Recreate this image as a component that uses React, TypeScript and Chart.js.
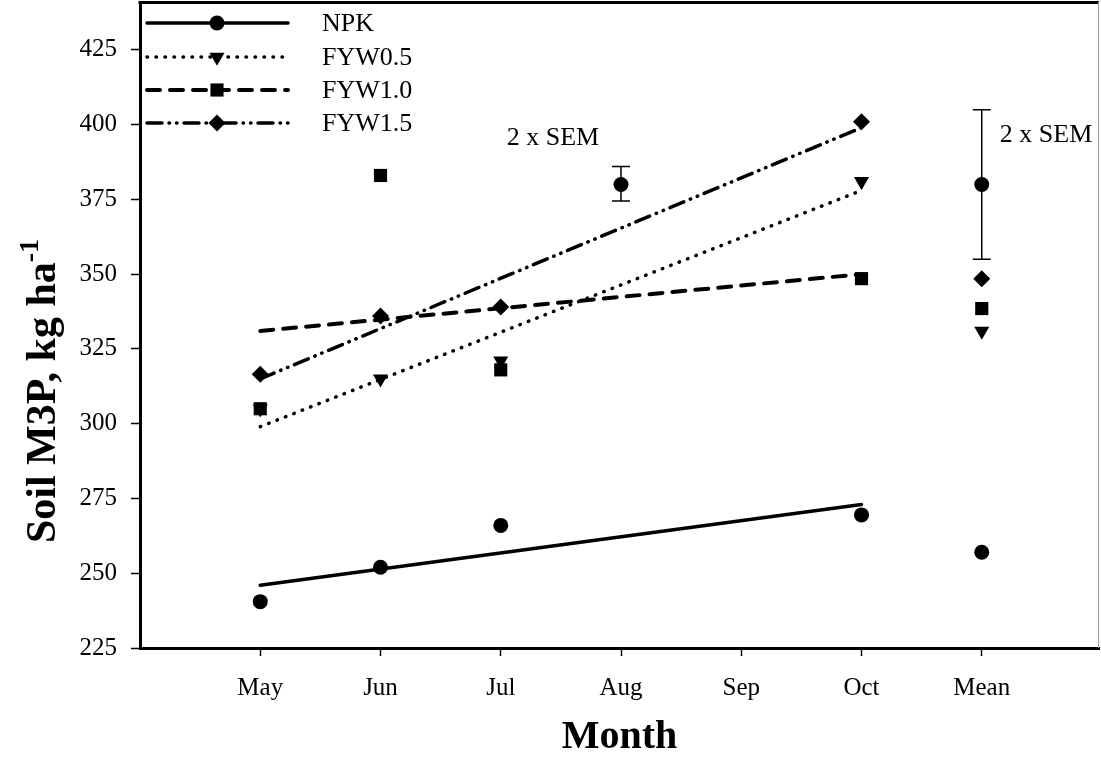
import React, { useEffect, useRef } from "react";
import { Chart, registerables } from "chart.js";
import { drawPoint } from "chart.js/helpers";

Chart.register(...registerables);

// ---- data ----
const monthLabels = ["", "May", "Jun", "Jul", "Aug", "Sep", "Oct", "Mean", ""];
const xTickValues = [1, 2, 3, 4, 5, 6, 7];
const yTickValues = [225, 250, 275, 300, 325, 350, 375, 400, 425];

const seriesNames = ["NPK", "FYW0.5", "FYW1.0", "FYW1.5"];
const obsX = [1, 2, 3, 6, 7];
const npkY = [240.5, 252, 266, 269.5, 257];
const fyw05Y = [305, 315, 321, 381, 331];
const fyw10Y = [305, 383, 318, 348.5, 338.5];
const fyw15Y = [316.5, 336, 339, 401, 348.5];

const trendX = [1, 6];
const npkTrend = [246, 273];
const fyw05Trend = [299, 378];
const fyw10Trend = [331, 350];
const fyw15Trend = [315, 399];

const semX = [4, 7];
const semMid = [380, 380];
const semLow = [374.5, 355];
const semHigh = [386, 405];
const semLabel = "2 x SEM";

const FONT = "'Liberation Serif', 'Times New Roman', serif";

const styles = [
  { pointStyle: "circle", radius: 7.5, rotation: 0, dash: [] as number[], width: 3.5 },
  { pointStyle: "triangle", radius: 8.7, rotation: 180, dash: [0.5, 8.5], width: 3.5 },
  { pointStyle: "rect", radius: 9.3, rotation: 0, dash: [13, 10], width: 4 },
  { pointStyle: "rectRot", radius: 8.5, rotation: 0, dash: [15, 7, 0.5, 7, 0.5, 7], width: 3.5 },
];

const pts = (xs: number[], ys: number[]) => xs.map((x, i) => ({ x, y: ys[i] }));

const overlay = {
  id: "overlay",
  afterDraw(chart: any) {
    const { ctx, chartArea, scales } = chart;
    const xs = scales.x;
    const ys = scales.y;
    ctx.save();
    // frame top & right
    ctx.strokeStyle = "#000";
    ctx.lineWidth = 3;
    ctx.beginPath();
    ctx.moveTo(chartArea.left - 1.5, chartArea.top + 0.5);
    ctx.lineTo(chartArea.right, chartArea.top + 0.5);
    ctx.stroke();
    ctx.strokeStyle = "#9a9a9a";
    ctx.lineWidth = 1;
    ctx.beginPath();
    ctx.moveTo(chartArea.right - 0.5, chartArea.top);
    ctx.lineTo(chartArea.right - 0.5, chartArea.bottom);
    ctx.stroke();

    // SEM error bars
    ctx.strokeStyle = "#000";
    ctx.lineWidth = 1.5;
    for (let i = 0; i < semX.length; i++) {
      const px = xs.getPixelForValue(semX[i]);
      const lo = ys.getPixelForValue(semLow[i]);
      const hi = ys.getPixelForValue(semHigh[i]);
      ctx.beginPath();
      ctx.moveTo(px, lo);
      ctx.lineTo(px, hi);
      ctx.moveTo(px - 9, lo);
      ctx.lineTo(px + 9, lo);
      ctx.moveTo(px - 9, hi);
      ctx.lineTo(px + 9, hi);
      ctx.stroke();
      ctx.fillStyle = "#000";
      drawPoint(ctx, { pointStyle: "circle", radius: 7.5, rotation: 0, borderWidth: 0 }, px, ys.getPixelForValue(semMid[i]));
    }
    // SEM labels
    ctx.fillStyle = "#000";
    ctx.font = `26px ${FONT}`;
    ctx.textBaseline = "middle";
    ctx.textAlign = "left";
    ctx.fillText(semLabel, xs.getPixelForValue(3.05), ys.getPixelForValue(395.5));
    ctx.fillText(semLabel, xs.getPixelForValue(7.15), ys.getPixelForValue(396.5));

    // legend
    const rowsY = [23, 57, 90, 123];
    for (let i = 0; i < 4; i++) {
      const st = styles[i];
      const y = rowsY[i];
      ctx.strokeStyle = "#000";
      ctx.lineWidth = st.width;
      ctx.lineCap = "round";
      ctx.setLineDash(st.dash);
      ctx.beginPath();
      ctx.moveTo(147, y);
      ctx.lineTo(288, y);
      ctx.stroke();
      ctx.setLineDash([]);
      ctx.fillStyle = "#000";
      drawPoint(ctx, { pointStyle: st.pointStyle, radius: st.radius, rotation: st.rotation, borderWidth: 0 }, 217, y);
      ctx.font = `26px ${FONT}`;
      ctx.textAlign = "left";
      ctx.textBaseline = "middle";
      ctx.fillText(seriesNames[i], 322, y + 1);
    }

    // axis titles
    ctx.fillStyle = "#000";
    ctx.font = `bold 40px ${FONT}`;
    ctx.textAlign = "center";
    ctx.textBaseline = "middle";
    ctx.fillText("Month", (chartArea.left + chartArea.right) / 2, 738);

    ctx.save();
    ctx.translate(42, 391);
    ctx.rotate(-Math.PI / 2);
    const main = "Soil M3P, kg ha";
    const sup = "-1";
    ctx.font = `bold 42px ${FONT}`;
    const wMain = ctx.measureText(main).width;
    ctx.font = `bold 28px ${FONT}`;
    const wSup = ctx.measureText(sup).width;
    const start = -(wMain + wSup) / 2;
    ctx.textAlign = "left";
    ctx.textBaseline = "alphabetic";
    ctx.font = `bold 42px ${FONT}`;
    ctx.fillText(main, start, 13);
    ctx.font = `bold 28px ${FONT}`;
    ctx.fillText(sup, start + wMain, -4);
    ctx.restore();

    ctx.restore();
  },
};

export default function App() {
  const ref = useRef<HTMLCanvasElement>(null);
  useEffect(() => {
    if (!ref.current) return;
    const markerSets = [npkY, fyw05Y, fyw10Y, fyw15Y];
    const trendSets = [npkTrend, fyw05Trend, fyw10Trend, fyw15Trend];
    const datasets: any[] = [];
    for (let i = 0; i < 4; i++) {
      const st = styles[i];
      datasets.push({
        label: seriesNames[i] + " trend",
        data: pts(trendX, trendSets[i]),
        showLine: true,
        borderColor: "#000",
        borderWidth: st.width,
        borderDash: st.dash,
        borderCapStyle: "round",
        pointRadius: 0,
        fill: false,
        order: 10,
      });
      datasets.push({
        label: seriesNames[i],
        data: pts(obsX, markerSets[i]),
        showLine: false,
        pointStyle: st.pointStyle,
        pointRadius: st.radius,
        pointRotation: st.rotation,
        pointBackgroundColor: "#000",
        pointBorderWidth: 0,
        pointBorderColor: "#000",
        order: i === 2 ? 1 : i === 1 ? 3 : 2,
      });
    }
    const chart = new Chart(ref.current, {
      type: "scatter",
      data: { datasets },
      options: {
        animation: false,
        responsive: false,
        devicePixelRatio: 1,
        layout: { autoPadding: false, padding: { top: 2, right: 2, left: 0, bottom: 0 } },
        plugins: { legend: { display: false }, tooltip: { enabled: false } },
        scales: {
          x: {
            type: "linear",
            min: 0,
            max: 7.975,
            afterBuildTicks: (s: any) => {
              s.ticks = xTickValues.map((v) => ({ value: v }));
            },
            afterFit: (s: any) => {
              s.height = 109;
              s.paddingLeft = 0;
              s.paddingRight = 0;
            },
            ticks: {
              callback: (v: any) => monthLabels[v] ?? "",
              color: "#000",
              font: { family: FONT, size: 25 },
              padding: 17,
              maxRotation: 0,
              autoSkip: false,
            },
            grid: { drawOnChartArea: false, tickLength: 8, tickColor: "#000", tickWidth: 1.5 },
            border: { color: "#000", width: 3 },
          },
          y: {
            type: "linear",
            min: 225,
            max: 441,
            afterBuildTicks: (s: any) => {
              s.ticks = yTickValues.map((v) => ({ value: v }));
            },
            afterFit: (s: any) => {
              s.width = 140;
              s.paddingTop = 0;
              s.paddingBottom = 0;
            },
            ticks: {
              color: "#000",
              font: { family: FONT, size: 25 },
              padding: 14,
              autoSkip: false,
            },
            grid: { drawOnChartArea: false, tickLength: 9, tickColor: "#000", tickWidth: 1.5 },
            border: { color: "#000", width: 3 },
          },
        },
      },
      plugins: [overlay],
    });
    return () => chart.destroy();
  }, []);
  return (
    <div style={{ position: "fixed", left: 0, top: 0, width: 1101, height: 757, background: "#fff" }}>
      <canvas ref={ref} width={1101} height={757} style={{ width: 1101, height: 757 }} />
    </div>
  );
}
